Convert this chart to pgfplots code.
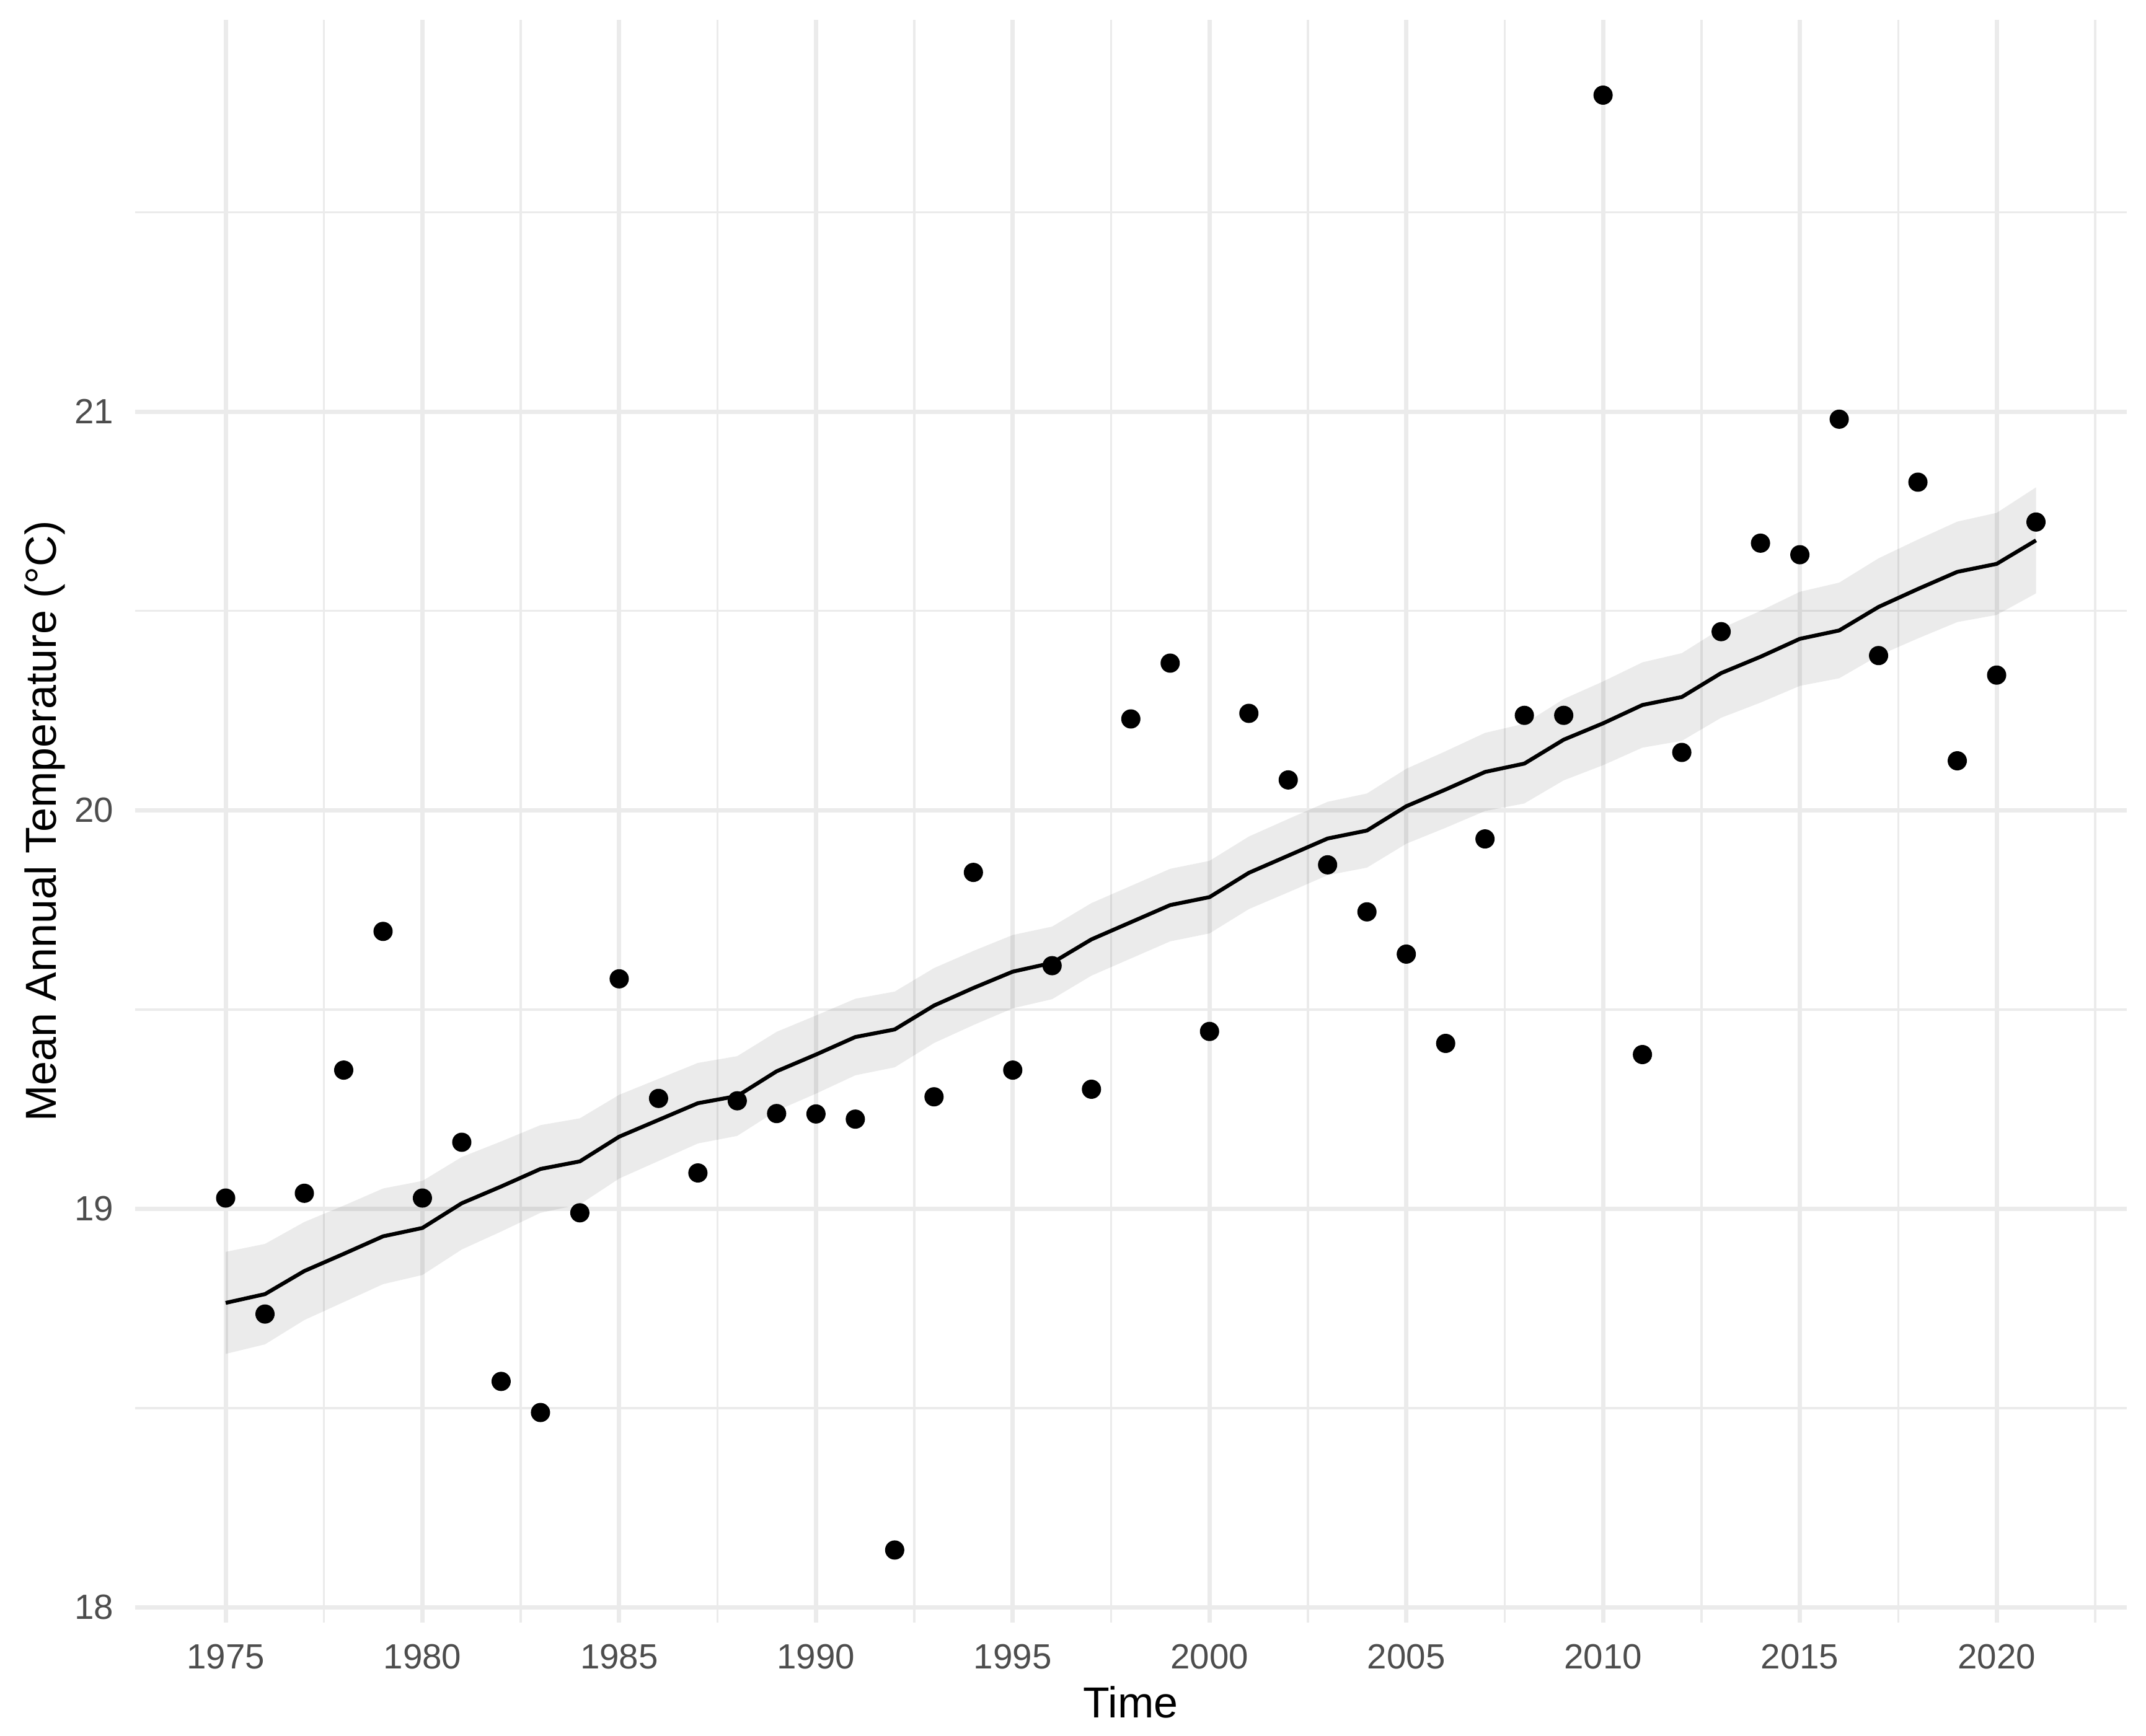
\documentclass[border=0pt]{standalone}
\usepackage{pgfplots}
\pgfplotsset{compat=1.18}
\usepackage{pgfplotstable}
\usepgfplotslibrary{fillbetween}
\usetikzlibrary{calc}
\usepackage{fontspec}
\setmainfont{Liberation Sans}
\definecolor{gridc}{HTML}{EBEBEB}
\definecolor{tickc}{HTML}{4D4D4D}

\pgfplotstableread{
year temp fit hw
1975 19.027 18.764 0.128
1976 18.736 18.786 0.126
1977 19.039 18.844 0.123
1978 19.348 18.887 0.121
1979 19.696 18.931 0.120
1980 19.027 18.952 0.118
1981 19.167 19.014 0.116
1982 18.567 19.056 0.113
1983 18.489 19.100 0.110
1984 18.990 19.119 0.108
1985 19.577 19.181 0.105
1986 19.277 19.223 0.103
1987 19.090 19.265 0.101
1988 19.271 19.283 0.100
1989 19.239 19.345 0.099
1990 19.238 19.387 0.098
1991 19.225 19.431 0.096
1992 18.144 19.450 0.095
1993 19.281 19.510 0.094
1994 19.844 19.554 0.093
1995 19.348 19.595 0.092
1996 19.610 19.617 0.091
1997 19.300 19.676 0.091
1998 20.229 19.719 0.091
1999 20.369 19.762 0.091
2000 19.445 19.782 0.091
2001 20.243 19.843 0.091
2002 20.076 19.886 0.092
2003 19.863 19.929 0.092
2004 19.745 19.949 0.093
2005 19.639 20.010 0.094
2006 19.415 20.052 0.096
2007 19.928 20.096 0.098
2008 20.238 20.117 0.100
2009 20.238 20.177 0.102
2010 21.794 20.218 0.105
2011 19.387 20.264 0.107
2012 20.145 20.284 0.110
2013 20.448 20.344 0.112
2014 20.670 20.385 0.115
2015 20.641 20.430 0.118
2016 20.981 20.451 0.120
2017 20.388 20.510 0.122
2018 20.823 20.555 0.124
2019 20.124 20.598 0.126
2020 20.339 20.618 0.128
2021 20.723 20.677 0.133
}\data

\begin{document}
\begin{tikzpicture}
\begin{axis}[
  name=ax, at={(0,0)}, anchor=south west,
  scale only axis, width=642.5pt, height=517.2pt,
  xmin=1972.7, xmax=2023.3, ymin=17.962, ymax=21.983,
  axis line style={draw=none}, tick style={draw=none},
  xtick={1975,1980,...,2020},
  minor xtick={1977.5,1982.5,1987.5,1992.5,1997.5,2002.5,2007.5,2012.5,2017.5,2022.5},
  ytick={18,19,20,21},
  minor ytick={18.5,19.5,20.5,21.5},
  grid=both,
  major grid style={draw=gridc, line width=1.4pt},
  minor grid style={draw=gridc, line width=0.7pt},
  /pgf/number format/.cd, 1000 sep={}, assume math mode=true, /pgfplots/.cd,
  xticklabel style={anchor=base, yshift=-14.94pt, font=\fontsize{11.3}{13}\selectfont, text=tickc},
  yticklabel style={anchor=east, inner sep=0pt, xshift=-6.8pt, font=\fontsize{11.3}{13}\selectfont, text=tickc},
  xlabel={Time},
  ylabel={Mean Annual Temperature (°C)},
  xlabel style={at={(axis description cs:0.5,-0.0594)}, anchor=base, inner sep=0pt, font=\fontsize{14}{16}\selectfont},
  ylabel style={at={(axis description cs:-0.0398,0.5)}, anchor=base, inner sep=0pt, font=\fontsize{14}{16}\selectfont},
]
\addplot[name path=U, draw=none, forget plot] table[x=year, y expr=\thisrow{fit}+\thisrow{hw}]{\data};
\addplot[name path=L, draw=none, forget plot] table[x=year, y expr=\thisrow{fit}-\thisrow{hw}]{\data};
\addplot[fill=black, fill opacity=0.08, draw=none] fill between[of=U and L];
\addplot[black, line width=1.25pt, line join=round] table[x=year, y=fit]{\data};
\addplot[only marks, mark=*, mark size=2.9pt, black] table[x=year, y=temp]{\data};
\end{axis}
\pgfresetboundingbox
\path ($(ax.south west)+(-43.6pt,-36.6pt)$) rectangle ($(ax.north east)+(6.3pt,6.4pt)$);
\end{tikzpicture}
\end{document}
